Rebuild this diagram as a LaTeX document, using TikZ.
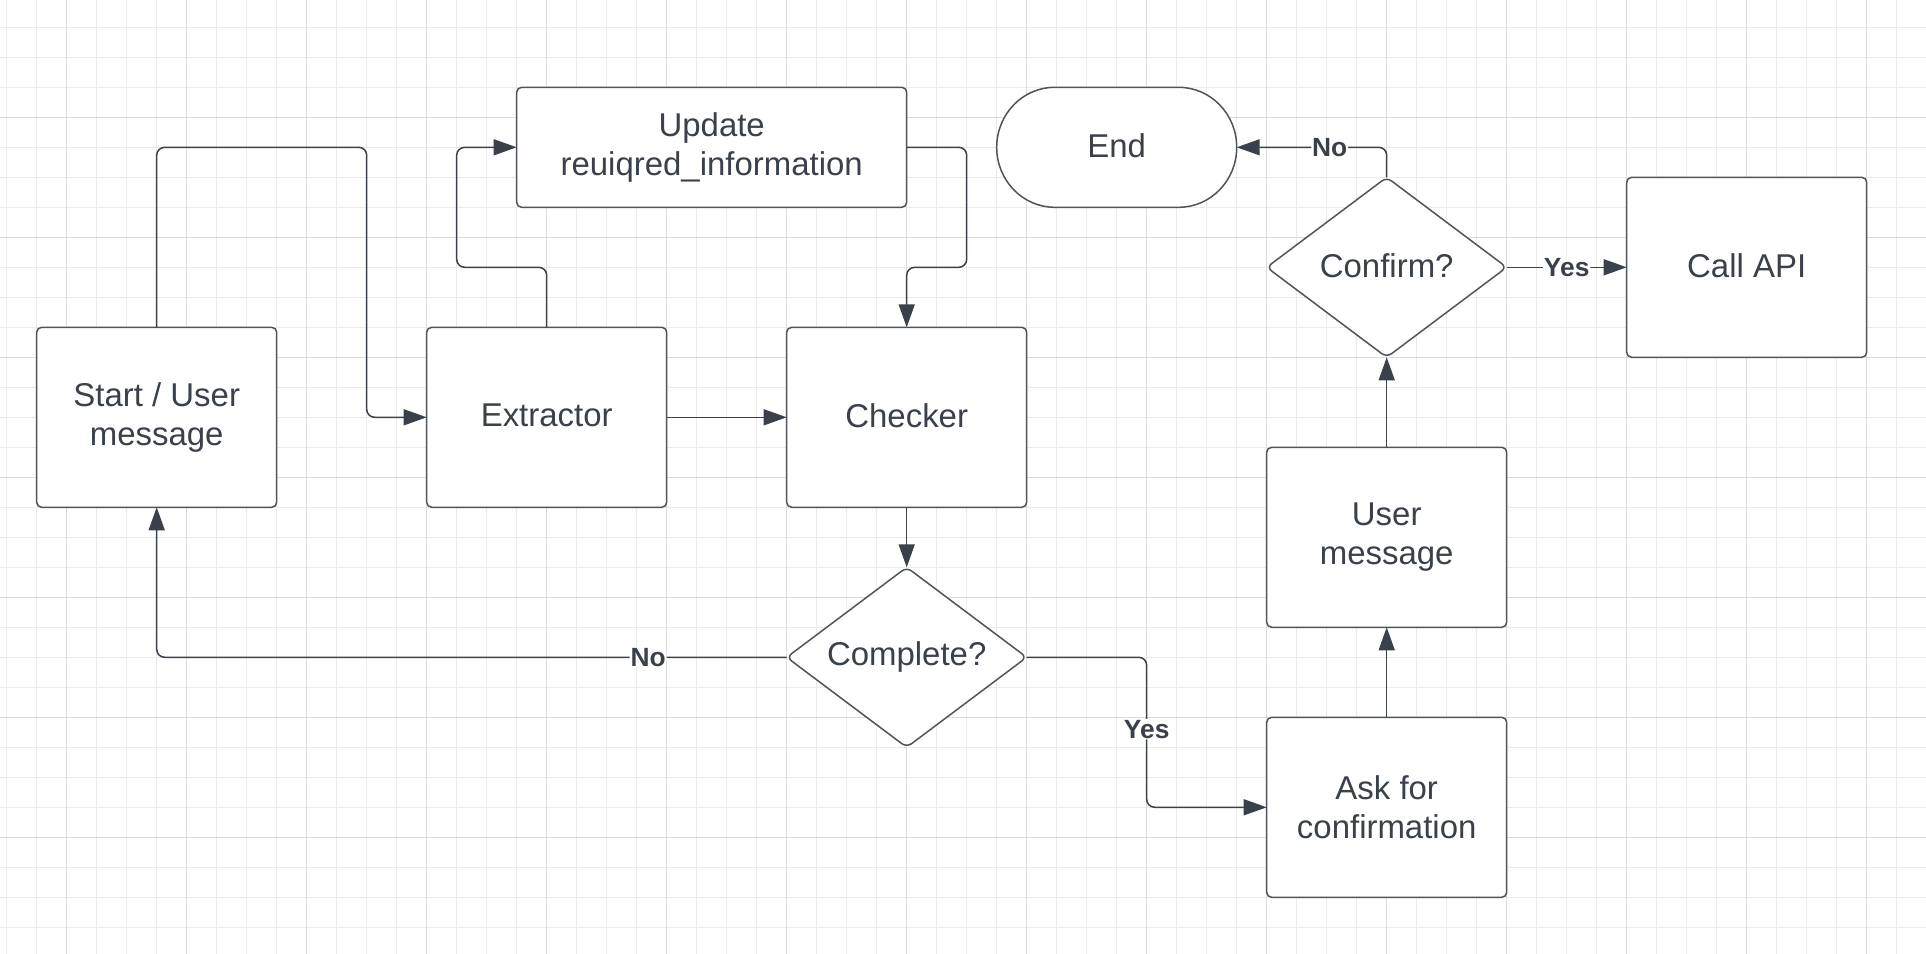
\documentclass[tikz,border=0pt]{standalone}
\usepackage{fontspec}
\setmainfont{Liberation Sans}
\usetikzlibrary{arrows.meta,shapes.geometric}
\definecolor{ink}{HTML}{3A414A}
\definecolor{edge}{HTML}{4F545B}
\definecolor{gridthin}{HTML}{EBEBEB}
\definecolor{gridthick}{HTML}{DCDCDC}

\begin{document}
\begin{tikzpicture}[x=0.2mm,y=-0.2mm,
    box/.style={draw=edge, fill=white, line width=0.3mm, rounded corners=1mm,
      minimum width=48mm, minimum height=36mm, inner sep=0pt, outer sep=0pt,
      align=center, text=ink, font=\fontsize{18.75}{22.4}\selectfont},
    onerow/.style={text depth=0.22em},
    decide/.style={box, shape=diamond, aspect=1.333, rounded corners=1.2mm},
    conn/.style={draw=ink, line width=0.3mm, rounded corners=1.6mm,
      -{Triangle[length=4.6mm,width=3.2mm]}},
    lbl/.style={fill=white, inner sep=0.5pt, text=ink,
      font=\fontsize{15}{18}\selectfont\bfseries}]
      \useasboundingbox (0,0) rectangle (1926,954);
      \fill[white] (0,0) rectangle (1926,954);
      % grid
      \foreach \gx in {6.7,36.7,...,1926} \draw[gridthin, line width=0.2mm] (\gx,0) -- (\gx,954);
      \foreach \gy in {27.3,57.3,...,954} \draw[gridthin, line width=0.2mm] (0,\gy) -- (1926,\gy);
      \foreach \gx in {66.7,186.7,...,1926} \draw[gridthick, line width=0.2mm] (\gx,0) -- (\gx,954);
      \foreach \gy in {117.3,237.3,...,954} \draw[gridthick, line width=0.2mm] (0,\gy) -- (1926,\gy);

      \node[box] (start) at (156.7,417.3) {Start / User\\message};
      \node[box, onerow] (extractor) at (546.7,417.3) {Extractor};
      \node[box, onerow] (checker) at (906.7,417.3) {Checker};
      \node[box, minimum width=78mm, minimum height=24mm] (update) at (711.7,147.3) {Update\\reuiqred\_information};
      \node[decide] (complete) at (906.7,657.3) {Complete?};
      \node[box] (ask) at (1386.7,807.3) {Ask for\\confirmation};
      \node[box] (usermsg) at (1386.7,537.3) {User\\message};
      \node[decide, onerow] (confirm) at (1386.7,267.3) {Confirm?};
      \node[box, onerow] (callapi) at (1746.7,267.3) {Call API};
      % terminator outline
      \filldraw[fill=white, draw=edge, line width=0.3mm] (1054.7,87.3) -- (1178.7,87.3)
        arc[start angle=-90, end angle=90, x radius=58, y radius=60] -- (1054.7,207.3)
        arc[start angle=90, end angle=270, x radius=58, y radius=60] -- cycle;
      \node[box, onerow, draw=none, fill=none, minimum height=24mm] (end) at (1116.7,147.3) {End};

      \draw[conn] (start.north) -- ++(0,-180) -- ++(210,0) |- (extractor.west);
      \draw[conn] (extractor.north) -- ++(0,-60) -- ++(-90,0) |- (update.west);
      \draw[conn] (update.east) -- ++(60,0) -- ++(0,120) -| (checker.north);
      \draw[conn] (extractor) -- (checker);
      \draw[conn] (checker) -- (complete);
      \draw[conn] (complete.west) -| node[lbl, pos=0.11] (nolbl) {No} (start.south);
      \draw[conn] (complete.east) -- ++(120,0) -- node[lbl, pos=0.48] (yeslbl) {Yes} ++(0,150) -- (ask.west);
      \draw[conn] (ask) -- (usermsg);
      \draw[conn] (usermsg) -- (confirm);
      \draw[conn] (confirm) -- node[lbl] (yesapi) {Yes} (callapi);
      \draw[conn] (confirm.north) |- node[lbl, pos=0.69] (noend) {No} (end.east);
    \end{tikzpicture}
\end{document}
